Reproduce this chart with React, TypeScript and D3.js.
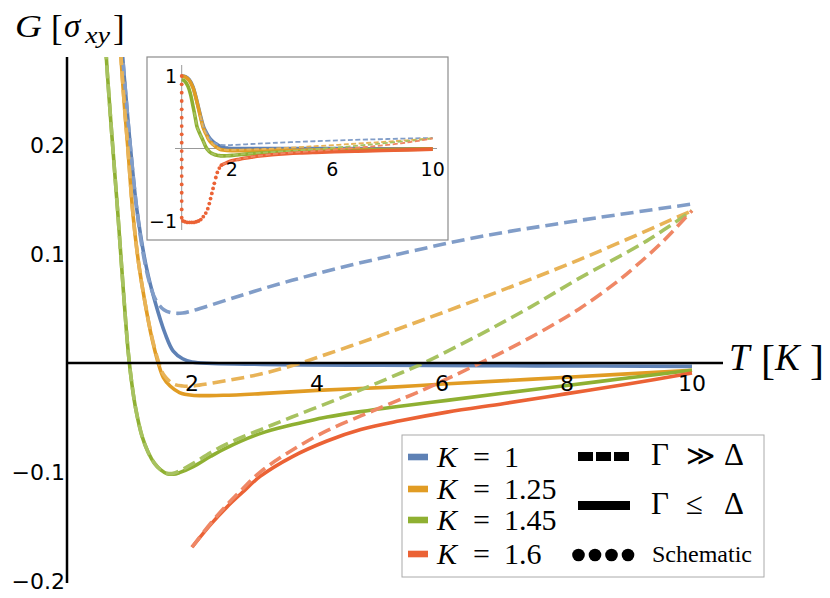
import { curveCatmullRom, line, scaleLinear } from "d3";

type Pt = [number, number];

const W = 830;
const H = 598;

// T [K] vs G [sigma_xy]
const blueSolid: Pt[] = [
  [0, 1.0], [0.15, 0.99], [0.3, 0.95], [0.45, 0.85], [0.55, 0.73], [0.65, 0.59], [0.75, 0.45],
  [0.82, 0.355], [0.88, 0.29], [0.95, 0.24], [1.02, 0.195], [1.12, 0.14], [1.27, 0.088],
  [1.41, 0.056], [1.57, 0.027], [1.7, 0.011], [1.85, 0.004], [2.0, 0.001], [3, -0.001],
  [5, -0.002], [7.5, -0.0025], [10, -0.003],
];
const orangeSolid: Pt[] = [
  [0, 1.0], [0.15, 0.985], [0.3, 0.94], [0.45, 0.84], [0.55, 0.72], [0.65, 0.58], [0.73, 0.46],
  [0.8, 0.36], [0.86, 0.285], [0.92, 0.235], [0.97, 0.2], [1.06, 0.134], [1.15, 0.09],
  [1.25, 0.055], [1.35, 0.025], [1.46, 0.0], [1.54, -0.013], [1.65, -0.021], [1.8, -0.027],
  [2.0, -0.0295], [2.5, -0.0295], [3.1, -0.028], [4, -0.025], [5.2, -0.022], [6.1, -0.019],
  [8, -0.013], [10, -0.0065],
];
const greenSolid: Pt[] = [
  [0, 0.95], [0.12, 0.93], [0.25, 0.86], [0.35, 0.75], [0.43, 0.62], [0.5, 0.5], [0.56, 0.39],
  [0.61, 0.3], [0.71, 0.215], [0.81, 0.14], [0.9, 0.068], [0.98, 0.01], [1.04, -0.02],
  [1.1, -0.042], [1.2, -0.067], [1.3, -0.082], [1.4, -0.092], [1.5, -0.098], [1.6, -0.1015],
  [1.7, -0.102], [1.8, -0.1005], [2.02, -0.095], [2.3, -0.0855], [2.56, -0.0775],
  [3.0, -0.0665], [3.36, -0.06], [3.8, -0.054], [4.16, -0.0495], [4.7, -0.0445],
  [5.2, -0.0405], [6.08, -0.0342], [7, -0.0275], [8, -0.0205], [9, -0.0135], [10, -0.0065],
];
const redSolid: Pt[] = [
  [1.6, -0.225], [1.8, -0.195], [2.0, -0.169], [2.3, -0.148], [2.56, -0.132], [2.8, -0.119],
  [3.09, -0.104], [3.6, -0.086], [4.16, -0.0715], [4.7, -0.061], [5.33, -0.053], [6.08, -0.045],
  [7, -0.037], [8, -0.028], [9, -0.019], [10, -0.009],
];

const blueDashed: Pt[] = [
  [0.75, 0.45], [0.82, 0.355], [0.88, 0.29], [0.95, 0.24], [1.02, 0.195], [1.12, 0.14],
  [1.22, 0.1], [1.32, 0.074], [1.42, 0.058], [1.55, 0.049], [1.7, 0.046], [1.85, 0.046],
  [2.0, 0.048], [2.56, 0.058], [3.0, 0.066], [3.6, 0.076], [4.4, 0.088], [5.3, 0.1],
  [6.6, 0.116], [8.2, 0.131], [10, 0.146],
];
const orangeDashed: Pt[] = [
  [0.73, 0.46], [0.8, 0.36], [0.86, 0.285], [0.92, 0.235], [0.97, 0.2], [1.06, 0.134],
  [1.15, 0.09], [1.25, 0.055], [1.35, 0.026], [1.46, 0.002], [1.55, -0.011], [1.7, -0.019],
  [1.85, -0.021], [2.0, -0.021], [2.56, -0.016], [3.1, -0.01], [3.62, -0.002], [4.2, 0.009],
  [5.0, 0.025], [5.33, 0.032], [6.6, 0.059], [8.2, 0.095], [10, 0.14],
];
const greenDashed: Pt[] = [
  [0.5, 0.5], [0.56, 0.39], [0.61, 0.3], [0.71, 0.215], [0.81, 0.14], [0.9, 0.068],
  [0.98, 0.01], [1.04, -0.02], [1.1, -0.042], [1.2, -0.067], [1.3, -0.082], [1.4, -0.092],
  [1.5, -0.098], [1.6, -0.101], [1.7, -0.1012], [1.8, -0.099], [2.02, -0.092], [2.3, -0.082],
  [2.6, -0.073], [3.1, -0.061], [3.6, -0.0495], [4.2, -0.036], [4.7, -0.0245],
  [5.2, -0.0125], [5.7, 0.0], [6.6, 0.026], [7.4, 0.051], [8.2, 0.078], [9.27, 0.112],
  [10, 0.14],
];
const redDashed: Pt[] = [
  [1.6, -0.225], [1.8, -0.195], [2.0, -0.169], [2.3, -0.147], [2.56, -0.13], [2.8, -0.116],
  [3.09, -0.1], [3.6, -0.08], [4.16, -0.062], [4.7, -0.0485], [5.2, -0.0365], [5.6, -0.027],
  [6.08, -0.0145], [6.5, -0.003], [7.0, 0.011], [7.68, 0.032], [8.2, 0.05], [8.74, 0.072],
  [9.1, 0.089], [9.54, 0.112], [10, 0.14],
];

// schematic K = 1.6 continuation, inset only
const redSchematic: Pt[] = [
  [0, 1.0], [0, 0.885], [0, 0.77], [0, 0.655], [0, 0.54], [0, 0.425], [0, 0.31], [0, 0.195],
  [0, 0.08], [0, -0.035], [0, -0.15], [0, -0.265], [0, -0.38], [0, -0.495], [0, -0.61],
  [0, -0.725], [0, -0.84], [0, -0.955], [0.05, -1.0], [0.13, -1.01], [0.22, -1.02],
  [0.31, -1.02], [0.4, -1.02], [0.49, -1.02], [0.58, -1.01], [0.67, -1.0], [0.76, -0.98],
  [0.86, -0.94], [0.96, -0.89], [1.04, -0.83], [1.1, -0.76], [1.15, -0.69], [1.2, -0.62],
  [1.25, -0.55], [1.3, -0.48], [1.36, -0.4], [1.42, -0.33], [1.5, -0.27], [1.58, -0.23],
];

const kValues = ["1", "1.25", "1.45", "1.6"];
const solidColors = ["#5e81b5", "#e19c24", "#8fb032", "#eb6235"];
const dashColors = ["#819dc8", "#e8b357", "#a7c260", "#ef8765"];
const solidSeries = [blueSolid, orangeSolid, greenSolid, redSolid];
const dashedSeries = [blueDashed, orangeDashed, greenDashed, redDashed];
const mainStartT = [0, 0, 0, 2.0];

const mainXTicks = [2, 4, 6, 8, 10];
const mainYTicks = [0.2, 0.1, -0.1, -0.2];
const insetXTicks = [2, 6, 10];
const insetYTicks = [1, -1];

const tickFont = { fontFamily: "'DejaVu Sans', sans-serif" };
const mathFont = { fontFamily: "'Liberation Serif', 'Times New Roman', Times, serif" };

const fmt = (t: number) => (t < 0 ? "\u2212" + Math.abs(t) : String(t));

export default function App() {
  const x = scaleLinear().domain([0, 10]).range([67, 692]);
  const y = scaleLinear().domain([-0.2, 0.281]).range([581, 57]);
  const ix = scaleLinear().domain([0, 10]).range([181.7, 432.7]);
  const iy = scaleLinear().domain([-1, 1]).range([221, 76]);

  const mk = (sx: (v: number) => number, sy: (v: number) => number) =>
    line<Pt>()
      .x((d) => sx(d[0]))
      .y((d) => sy(d[1]))
      .curve(curveCatmullRom.alpha(0.5));

  const mainLine = mk(x, y);
  const insetLine = mk(ix, iy);

  const rowY = [457, 489, 520, 554];

  return (
    <svg
      width={W}
      height={H}
      viewBox={`0 0 ${W} ${H}`}
      style={{ position: "absolute", left: 0, top: 0, background: "#fff" }}
    >
      <defs>
        <clipPath id="mainClip">
          <rect x={60} y={57} width={650} height={527} />
        </clipPath>
        <clipPath id="insetClip">
          <rect x={148} y={58} width={299} height={181} />
        </clipPath>
      </defs>

      {/* main curves */}
      <g clipPath="url(#mainClip)" fill="none" strokeLinecap="butt" strokeLinejoin="round">
        {solidSeries.map((s, i) => (
          <path
            key={`s${i}`}
            d={mainLine(s.filter((d) => d[0] >= mainStartT[i])) ?? ""}
            stroke={solidColors[i]}
            strokeWidth={3.6}
          />
        ))}
        {dashedSeries.map((s, i) => (
          <path
            key={`d${i}`}
            d={mainLine(s.filter((d) => d[0] >= mainStartT[i])) ?? ""}
            stroke={dashColors[i]}
            strokeWidth={3.6}
            strokeDasharray="13 6"
          />
        ))}
      </g>

      {/* main axes */}
      <line x1={67} x2={723} y1={y(0)} y2={y(0)} stroke="#000" strokeWidth={2.5} />
      <line x1={67} x2={67} y1={57} y2={583} stroke="#000" strokeWidth={2.5} />
      {mainYTicks.map((t) => (
        <text key={`y${t}`} x={65} y={y(t)} dy="0.36em" textAnchor="end" fontSize={22} style={tickFont}>
          {fmt(t)}
        </text>
      ))}
      {mainXTicks.map((t) => (
        <text key={`x${t}`} x={x(t)} y={391} textAnchor="middle" fontSize={22} style={tickFont}>
          {fmt(t)}
        </text>
      ))}

      {/* axis labels */}
      <g style={mathFont}>
        <text x={15} y={37} fontSize={31} fontStyle="italic" textLength={27} lengthAdjust="spacingAndGlyphs">G</text>
        <text x={51} y={40} fontSize={35}>[</text>
        <text x={64} y={37} fontSize={33} fontStyle="italic">σ</text>
        <text x={85} y={43} fontSize={24} fontStyle="italic" textLength={25} lengthAdjust="spacingAndGlyphs">xy</text>
        <text x={113} y={40} fontSize={35}>]</text>

        <text x={729} y={370} fontSize={37} fontStyle="italic">T</text>
        <text x={761} y={374} fontSize={42}>[</text>
        <text x={775} y={370} fontSize={37} fontStyle="italic">K</text>
        <text x={810} y={374} fontSize={42}>]</text>
      </g>

      {/* inset */}
      <rect x={147} y={57} width={301} height={183} fill="#fff" stroke="#8c8c8c" strokeWidth={1.2} />
      <line x1={175} x2={437} y1={iy(0)} y2={iy(0)} stroke="#999" strokeWidth={1} />
      <line x1={ix(0)} x2={ix(0)} y1={65} y2={230} stroke="#999" strokeWidth={1} />
      <g clipPath="url(#insetClip)" fill="none" strokeLinejoin="round">
        {solidSeries.map((s, i) => (
          <path key={`is${i}`} d={insetLine(s) ?? ""} stroke={solidColors[i]} strokeWidth={3.6} />
        ))}
        {dashedSeries.map((s, i) => (
          <path
            key={`id${i}`}
            d={insetLine(s) ?? ""}
            stroke={dashColors[i]}
            strokeWidth={1.8}
            strokeDasharray="5 2.5"
          />
        ))}
        {redSchematic.map((d, i) => (
          <circle key={`p${i}`} cx={ix(d[0])} cy={iy(d[1])} r={1.9} fill={solidColors[3]} />
        ))}
      </g>
      {insetYTicks.map((t) => (
        <text key={`iy${t}`} x={177} y={iy(t)} dy="0.36em" textAnchor="end" fontSize={19} style={tickFont}>
          {fmt(t)}
        </text>
      ))}
      {insetXTicks.map((t) => (
        <text key={`ix${t}`} x={ix(t)} y={176} textAnchor="middle" fontSize={19} style={tickFont}>
          {fmt(t)}
        </text>
      ))}

      {/* legend */}
      <rect x={402} y={435} width={362} height={142} fill="#fff" stroke="#aaa" strokeWidth={1} />
      {kValues.map((k, i) => (
        <g key={`lg${k}`} style={mathFont} fontSize={30}>
          <rect x={408} y={rowY[i] - 3.3} width={20} height={6.6} fill={solidColors[i]} />
          <text x={437} y={rowY[i] + 10} fontStyle="italic">K</text>
          <text x={473} y={rowY[i] + 10}>=</text>
          <text x={504} y={rowY[i] + 10}>{k}</text>
        </g>
      ))}
      <line x1={578} x2={630} y1={456.5} y2={456.5} stroke="#000" strokeWidth={9} strokeDasharray="15 3" />
      <line x1={578} x2={630} y1={505.5} y2={505.5} stroke="#000" strokeWidth={9} />
      {[0, 1, 2, 3].map((j) => (
        <circle key={`ld${j}`} cx={578.5 + j * 16.5} cy={555} r={6.3} fill="#000" />
      ))}
      <g style={mathFont} fontSize={31}>
        <text x={651} y={465}>Γ</text>
        <text x={686} y={465} fontSize={28} style={{ fontFamily: "'DejaVu Serif', serif" }}>≫</text>
        <text x={724} y={465}>Δ</text>
        <text x={651} y={514}>Γ</text>
        <text x={686} y={514}>≤</text>
        <text x={724} y={514}>Δ</text>
      </g>
      <text x={652} y={562} fontSize={24} style={mathFont}>
        Schematic
      </text>
    </svg>
  );
}
